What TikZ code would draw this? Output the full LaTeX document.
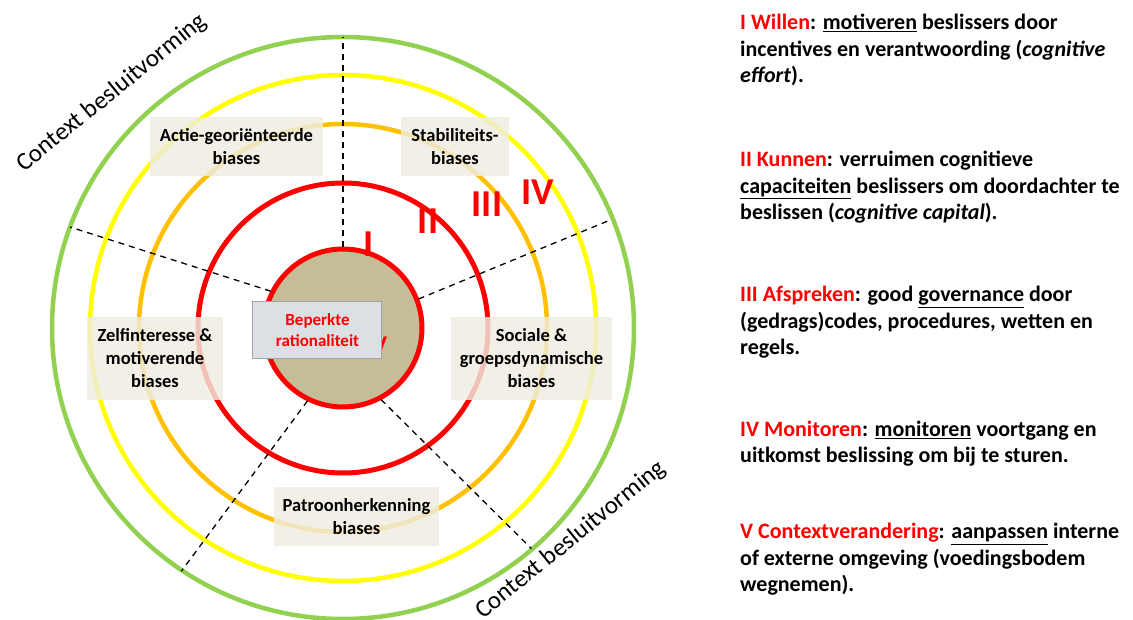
\documentclass[tikz,border=0pt]{standalone}
\usepackage{fontspec}
\setmainfont{Carlito}
\usepackage{tikz}
\usetikzlibrary{positioning}

\definecolor{ringgreen}{HTML}{92D050}
\definecolor{ringyellow}{HTML}{FFFF00}
\definecolor{ringorange}{HTML}{FFC000}
\definecolor{ringred}{HTML}{FF0000}
\definecolor{coretan}{HTML}{C4BD97}
\definecolor{biasfill}{HTML}{EEECE1}
\definecolor{corebox}{HTML}{DCDFE3}
\definecolor{coreline}{HTML}{A5A5A5}

\begin{document}
\begin{tikzpicture}[x=1pt,y=1pt,
		ring/.style={line width=4.5pt},
		divider/.style={dash pattern=on 6pt off 5pt,line width=1.3pt},
		bias node/.style={fill=biasfill,fill opacity=0.82,text opacity=1,inner sep=0pt,
			align=center,font=\bfseries\fontsize{18.5}{23}\selectfont},
		numeral/.style={text=ringred,font=\bfseries\fontsize{38}{38}\selectfont},
		info/.style={anchor=base west,align=left,inner sep=0pt,
			font=\bfseries\fontsize{22}{26.5}\selectfont},
		context/.style={rotate=39,font=\fontsize{25}{25}\selectfont}]
		
		\useasboundingbox (-343,-292) rectangle (790,328);
		
		% rings
		\draw[ring,ringgreen] (0,0) circle (291pt);
		\draw[ring,ringyellow] (0,0) circle (253pt);
		\draw[ring,ringorange] (0,0) circle (204pt);
		\draw[ring,ringred,line width=5pt] (0,0) circle (145pt);
		\draw[ringred,line width=5pt,fill=coretan] (0,0) circle (79pt);
		
		% dividers
		\draw[divider] (90:81pt) -- (90:291pt);
		\draw[divider] (21:81pt) -- (22:289pt);
		\draw[divider] (153:81pt) -- (159.7:291pt);
		\draw[divider] (244:81pt) -- (236.4:292pt);
		\draw[divider] (298:81pt) -- (310.5:290pt);
		
		% numerals
		\node[numeral] (n1) at (26,84) {I};
		\node[numeral] (n2) at (85,107) {II};
		\node[numeral] (n3) at (144,124) {III};
		\node[numeral] (n4) at (195,136) {IV};
		\node[numeral,font=\bfseries\fontsize{24}{24}\selectfont] (n5) at (37,-17) {V};
		
		% bias boxes
		\node[bias node,minimum width=173pt,minimum height=59pt] (actie) at (-106.5,181.5) {Actie-georiënteerde\\biases};
		\node[bias node,minimum width=108pt,minimum height=59pt] (stab) at (112,181.5) {Stabiliteits-\\biases};
		\node[bias node,minimum width=136pt,minimum height=83pt] (zelf) at (-188,-30.5) {Zelfinteresse \&\\motiverende\\biases};
		\node[bias node,minimum width=161pt,minimum height=83pt] (sociaal) at (188.5,-30.5) {Sociale \&\\groepsdynamische\\biases};
		\node[bias node,minimum width=165pt,minimum height=59pt] (patroon) at (13.5,-188.5) {Patroonherkenning\\biases};
		\node[draw=coreline,line width=1pt,fill=corebox,text=ringred,align=center,inner sep=0pt,
			minimum width=129pt,minimum height=57pt,font=\bfseries\fontsize{17}{21}\selectfont]
			(kern) at (-25.5,-2.5) {Beperkte\\rationaliteit};
		
		% context
		\node[context] (ctx1) at (-231,235) {Context besluitvorming};
		\node[context] (ctx2) at (228,-212) {Context besluitvorming};
		
		% explanation (base = last line)
		\node[info] (p1) at (397,245) {\textcolor{ringred}{I Willen}: \underline{motiveren} beslissers door\\incentives en verantwoording (\textit{cognitive}\\\textit{effort}).};
		\node[info] (p2) at (397,108) {\textcolor{ringred}{II Kunnen}: verruimen cognitieve\\\underline{capaciteiten} beslissers om doordachter te\\beslissen (\textit{cognitive capital}).};
		\node[info] (p3) at (397,-27) {\textcolor{ringred}{III Afspreken}: good \underline{governance} door\\(gedrags)codes, procedures, wetten en\\regels.};
		\node[info] (p4) at (397,-135) {\textcolor{ringred}{IV Monitoren}: \underline{monitoren} voortgang en\\uitkomst beslissing om bij te sturen.};
		\node[info] (p5) at (397,-264) {\textcolor{ringred}{V Contextverandering}: \underline{aanpassen} interne\\of externe omgeving (voedingsbodem\\wegnemen).};
		
	\end{tikzpicture}
\end{document}
